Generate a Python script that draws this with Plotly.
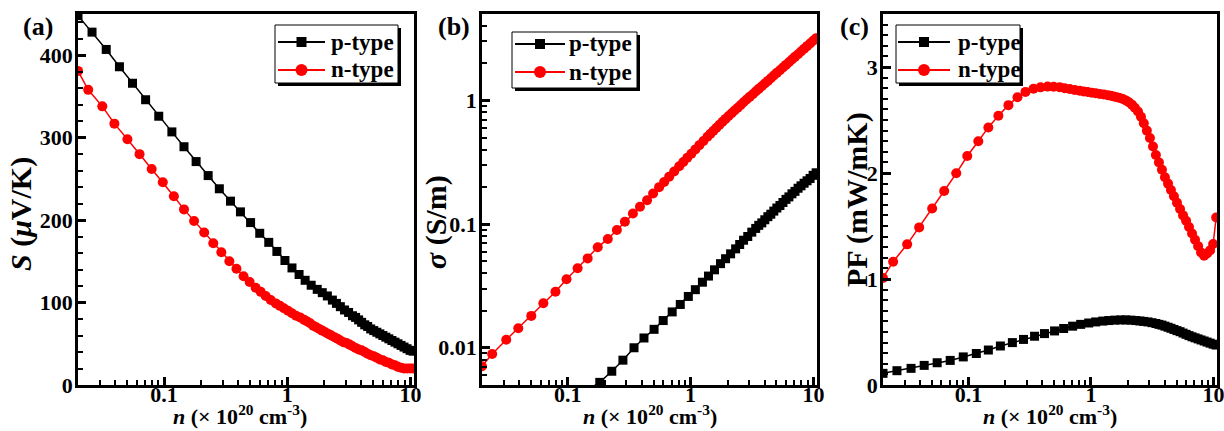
import plotly.graph_objects as go
import math

# ---------------- data ----------------
# carrier concentration grids (x 10^20 cm^-3)
n_p = [0.0200, 0.0260, 0.0339, 0.0434, 0.0554, 0.0708, 0.0905, 0.1157, 0.1451, 0.182,
       0.228, 0.281, 0.346, 0.417, 0.504, 0.598, 0.708, 0.824, 0.958, 1.093,
       1.248, 1.398, 1.565, 1.752, 1.926, 2.117, 2.326, 2.51, 2.70, 2.92,
       3.15, 3.39, 3.59, 3.80, 4.02, 4.26, 4.50, 4.76, 5.04, 5.34,
       5.65, 5.98, 6.32, 6.69, 7.08, 7.50, 7.93, 8.40, 8.88, 9.40,
       9.95, 10.53]
n_n = [0.0200, 0.0242, 0.0315, 0.0395, 0.0504, 0.0632, 0.0793, 0.0976, 0.1201, 0.1451,
       0.1752, 0.2117, 0.2509, 0.2916, 0.339, 0.387, 0.442, 0.495,
       0.554, 0.609, 0.669, 0.735, 0.808,
       0.872, 0.940, 1.014, 1.093, 1.179, 1.272, 1.372,
       1.452, 1.536, 1.625, 1.720, 1.820, 1.926, 2.04, 2.16, 2.28, 2.42,
       2.56, 2.70, 2.86, 3.03, 3.21, 3.39, 3.59, 3.80, 4.02, 4.26,
       4.50, 4.76, 5.04, 5.34, 5.65, 5.98, 6.32, 6.69, 7.08, 7.50,
       7.93, 8.40, 8.88, 9.40, 9.95, 10.53]

# (a) Seebeck coefficient (uV/K)
S_p = [448, 428, 407, 386, 366, 346, 326, 307, 289, 271,
       254, 238, 223, 210, 197, 184, 173, 162, 151, 142,
       134, 127, 121, 116, 112, 108, 103, 99, 95, 91,
       88, 84, 82, 79, 76, 73, 71, 68, 66, 64,
       62, 60, 58, 56, 54, 52, 50, 48, 46, 44,
       42, 41]
S_n = [381, 358, 338, 317, 298, 280, 262, 246, 229, 213,
       199, 185, 172, 161, 150, 141, 132, 125,
       118, 113, 108, 103, 99,
       96, 93, 90, 87, 84, 82, 79,
       77, 75, 72, 70, 68, 66, 64, 62, 60, 58,
       56, 54, 52, 51, 49, 47, 45, 43, 42, 40,
       38, 36, 35, 33, 31, 30, 28, 27, 25, 24,
       22, 21, 20, 20, 20, 20]

# (b) electrical conductivity (S/m)
sig_p = [None, None, None, None, None, None, None, None, 0.00457, 0.00525,
         0.00646, 0.00794, 0.0100, 0.0120, 0.0141, 0.0166, 0.0195, 0.0224, 0.0260, 0.0295,
         0.0339, 0.0380, 0.0427, 0.0479, 0.0525, 0.0575, 0.0631, 0.0684, 0.0741, 0.0794,
         0.0861, 0.0923, 0.0977, 0.1023, 0.1084, 0.1148, 0.1202, 0.1274, 0.1349, 0.1413,
         0.1496, 0.1585, 0.166, 0.1758, 0.184, 0.195, 0.204, 0.214, 0.224, 0.234,
         0.248, 0.260]
sig_n = [0.0071, 0.0089, 0.0116, 0.0144, 0.0181, 0.0229, 0.0284, 0.0358, 0.0440, 0.0528,
         0.0649, 0.0759, 0.0895, 0.1045, 0.122, 0.138, 0.156, 0.177,
         0.199, 0.219, 0.242, 0.266, 0.294,
         0.318, 0.344, 0.371, 0.402, 0.435, 0.470, 0.508,
         0.538, 0.569, 0.602, 0.636, 0.672, 0.709, 0.748, 0.788, 0.830, 0.874,
         0.919, 0.966, 1.017, 1.069, 1.123, 1.180, 1.241, 1.303, 1.370, 1.439,
         1.513, 1.590, 1.671, 1.756, 1.845, 1.939, 2.039, 2.143, 2.252, 2.366,
         2.487, 2.615, 2.748, 2.888, 3.035, 3.19]

# (c) power factor (mW/mK)
PF_p = [0.11, 0.135, 0.157, 0.185, 0.21, 0.232, 0.265, 0.297, 0.33, 0.368,
        0.40, 0.43, 0.46, 0.485, 0.51, 0.533, 0.555, 0.572, 0.585, 0.595,
        0.603, 0.608, 0.612, 0.614, 0.614, 0.612, 0.608, 0.604, 0.60, 0.595,
        0.588, 0.58, 0.572, 0.565, 0.555, 0.545, 0.535, 0.524, 0.513, 0.503,
        0.49, 0.478, 0.466, 0.455, 0.445, 0.435, 0.425, 0.415, 0.405, 0.395,
        0.385, 0.377]
PF_n = [1.01, 1.163, 1.327, 1.487, 1.665, 1.83, 1.997, 2.16, 2.30, 2.43,
        2.54, 2.64, 2.715, 2.765, 2.795, 2.808, 2.815, 2.814,
        2.81, 2.80, 2.792, 2.784, 2.776,
        2.77, 2.764, 2.758, 2.752, 2.746, 2.74, 2.734,
        2.728, 2.722, 2.715, 2.707, 2.698, 2.685, 2.668, 2.645, 2.615, 2.58,
        2.53, 2.47, 2.40, 2.33, 2.25, 2.17, 2.10, 2.03, 1.96, 1.90,
        1.84, 1.78, 1.72, 1.66, 1.60, 1.55, 1.49, 1.43, 1.37, 1.31,
        1.25, 1.22, 1.24, 1.27, 1.33, 1.58]

series_names = ["p-type", "n-type"]
x_major = [0.1, 1, 10]
x_major_text = ["0.1", "1", "10"]
x_minor = [0.03, 0.04, 0.05, 0.06, 0.07, 0.08, 0.09,
           0.2, 0.3, 0.4, 0.5, 0.6, 0.7, 0.8, 0.9,
           2, 3, 4, 5, 6, 7, 8, 9]
yb_major = [0.01, 0.1, 1]
yb_major_text = ["0.01", "0.1", "1"]
yb_minor = [0.006, 0.007, 0.008, 0.009, 0.02, 0.03, 0.04, 0.05, 0.06, 0.07, 0.08, 0.09,
            0.2, 0.3, 0.4, 0.5, 0.6, 0.7, 0.8, 0.9, 2, 3, 4]

# ---------------- layout helpers ----------------
W, H = 1224, 431
FONT = "Liberation Serif"
RED = "#ff0000"

def px_x(p):
    return p / W

def px_y(p):
    return 1 - p / H

panels = [  # left, right, top, bottom (pixels)
    (78, 414, 14, 385),
    (482, 817, 14, 385),
    (883, 1217, 14, 385),
]

fig = go.Figure()

series = [
    (S_p, S_n, "x", "y"),
    (sig_p, sig_n, "x2", "y2"),
    (PF_p, PF_n, "x3", "y3"),
]
for yp, yn, xa, ya in series:
    fig.add_trace(go.Scatter(x=n_p, y=yp, mode="lines+markers", name=series_names[0],
                             line=dict(color="black", width=1.5),
                             marker=dict(symbol="square", size=9, color="black"),
                             xaxis=xa, yaxis=ya, showlegend=False))
    fig.add_trace(go.Scatter(x=n_n, y=yn, mode="lines+markers", name=series_names[1],
                             line=dict(color=RED, width=1.5),
                             marker=dict(symbol="circle", size=10, color=RED),
                             xaxis=xa, yaxis=ya, showlegend=False))

tickfont = dict(family=FONT, size=22, color="black", weight="bold")
common = dict(showline=True, linewidth=2.5, linecolor="black", mirror=True,
              showgrid=False, zeroline=False, ticks="inside", ticklen=8,
              tickwidth=2.5, tickcolor="black", tickfont=tickfont, automargin=False,
              ticklabeloverflow="allow")

xrange_log = [math.log10(0.02), math.log10(10.7)]
layout = dict(width=W, height=H, margin=dict(l=0, r=0, t=0, b=0, pad=0, autoexpand=False),
              paper_bgcolor="white", plot_bgcolor="white", showlegend=False)

for i, (l, r, t, b) in enumerate(panels):
    sfx = "" if i == 0 else str(i + 1)
    layout["xaxis" + sfx] = dict(common, domain=[px_x(l), px_x(r)], type="log",
                                 range=xrange_log, tickvals=x_major, ticktext=x_major_text,
                                 anchor="y" + sfx, ticklabelstandoff=-12,
                                 minor=dict(ticks="inside", ticklen=5, tickwidth=2,
                                            tickcolor="black", tickvals=x_minor))
    ydom = [px_y(b), px_y(t)]
    if i == 0:
        layout["yaxis"] = dict(common, domain=ydom, range=[0, 450],
                               tickvals=[0, 100, 200, 300, 400], anchor="x",
                               ticklabelstandoff=-2,
                               minor=dict(ticks="inside", ticklen=5, tickwidth=2,
                                          tickcolor="black", dtick=20))
    elif i == 1:
        layout["yaxis2"] = dict(common, domain=ydom, type="log",
                                range=[math.log10(0.005), math.log10(5)],
                                tickvals=yb_major, ticktext=yb_major_text, anchor="x2",
                                ticklabelstandoff=-2,
                                minor=dict(ticks="inside", ticklen=5, tickwidth=2,
                                           tickcolor="black", tickvals=yb_minor))
    else:
        layout["yaxis3"] = dict(common, domain=ydom, range=[0, 3.5],
                                tickvals=[0, 1, 2, 3], anchor="x3",
                                ticklabelstandoff=-2,
                                minor=dict(ticks="inside", ticklen=5, tickwidth=2,
                                           tickcolor="black", dtick=0.1))

fig.update_layout(**layout)

ann = []
def add_text(text, x, y, size, angle=0, xanchor="center"):
    ann.append(dict(text=text, x=px_x(x), y=px_y(y), xref="paper", yref="paper",
                    showarrow=False, textangle=angle, xanchor=xanchor, yanchor="middle",
                    font=dict(family=FONT, size=size, color="black")))

# ---------------- legends (box with drop shadow) ----------------
# (box left, box top, box right, box bottom, row1 y, row2 y, sample x0, sample x1, text x)
legends = [
    (275, 25, 398, 83, 42, 70, 278, 325, 329),
    (512, 32, 637, 88, 44, 72, 515, 565, 567),
    (896, 25, 1020, 83, 42, 70, 898, 950, 956),
]
def rect(x0, y0, x1, y1, **kw):
    fig.add_shape(type="rect", xref="paper", yref="paper",
                  x0=px_x(x0), x1=px_x(x1), y0=px_y(y1), y1=px_y(y0), layer="above", **kw)

for L, T, R, B, r1, r2, s0, s1, tx in legends:
    rect(L + 3, T + 3, R + 3, B + 3, fillcolor="black", line=dict(width=0))
    rect(L, T, R, B, fillcolor="white", line=dict(color="black", width=1))
    for ry, col, sym, name in [(r1, "black", "square", series_names[0]),
                               (r2, RED, "circle", series_names[1])]:
        fig.add_shape(type="line", xref="paper", yref="paper", layer="above",
                      x0=px_x(s0), x1=px_x(s1), y0=px_y(ry), y1=px_y(ry),
                      line=dict(color=col, width=2))
        cx = (s0 + s1) / 2
        if sym == "square":
            rect(cx - 5, ry - 5, cx + 5, ry + 5, fillcolor=col, line=dict(width=0))
        else:
            fig.add_shape(type="circle", xref="paper", yref="paper", layer="above",
                          x0=px_x(cx - 6), x1=px_x(cx + 6), y0=px_y(ry + 6), y1=px_y(ry - 6),
                          fillcolor=col, line=dict(width=0))
        add_text("<b>%s</b>" % name, tx, ry, 23, xanchor="left")

add_text("<b>(a)</b>", 38, 27, 26)
add_text("<b>(b)</b>", 454, 27, 26)
add_text("<b>(c)</b>", 854, 27, 26)

xt = "<b><i>n</i> (× 10<sup>20</sup> cm<sup>-3</sup>)</b>"
add_text(xt, 240, 415, 22)
add_text(xt, 650, 415, 22)
add_text(xt, 1050, 415, 22)

add_text("<b><i>S</i> (<i>μ</i>V/K)</b>", 21, 214, 30, -90)
add_text("<b><i>σ</i> (S/m)</b>", 436, 222, 30, -90)
add_text("<b>PF (mW/mK)</b>", 857, 200, 30, -90)

fig.update_layout(annotations=ann)
fig.write_html("out.html")
